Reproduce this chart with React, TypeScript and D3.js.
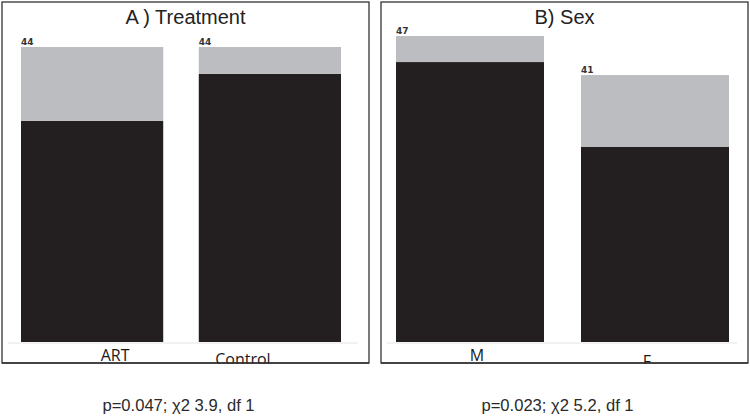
import React from "react";
import * as d3 from "d3";

// counts (black = yes, grey = no), totals printed on top
const treatmentGroups = ["ART", "Control"];
const treatmentYes = [33, 40];
const treatmentNo = [11, 4];

const sexGroups = ["M", "F"];
const sexYes = [43, 30];
const sexNo = [4, 11];

const titles = ["A ) Treatment", "B) Sex"];
const stats = ["p=0.047; \u03c72 3.9, df 1", "p=0.023; \u03c72 5.2, df 1"];

const BLACK = "#231f20";
const GREY = "#bcbdc0";

const W = 750;
const H = 417;

interface PanelProps {
  x0: number;
  x1: number;
  title: string;
  stat: string;
  groups: string[];
  yes: number[];
  no: number[];
  barLeft: number;
  barRight: number;
  topY: number;
  labelDx: number[];
  labelDy: number[];
}

const Panel: React.FC<PanelProps> = ({
  x0,
  x1,
  title,
  stat,
  groups,
  yes,
  no,
  barLeft,
  barRight,
  topY,
  labelDx,
  labelDy,
}) => {
  const baseY = 342;
  const totals = groups.map((_, i) => yes[i] + no[i]);
  const x = d3
    .scaleBand()
    .domain(groups)
    .range([barLeft, barRight])
    .paddingInner(0.2)
    .paddingOuter(0);
  const y = d3
    .scaleLinear()
    .domain([0, d3.max(totals)!])
    .range([baseY, topY]);
  const rows = groups.map((g, i) => ({ g, yes: yes[i], no: no[i] }));
  const stacked = d3.stack<any>().keys(["yes", "no"])(rows);
  const cx = (x0 + x1) / 2;

  return (
    <g>
      <rect
        x={x0}
        y={2}
        width={x1 - x0}
        height={361}
        fill="#fff"
        stroke="#333"
        strokeWidth={1.3}
      />
      <text
        x={cx}
        y={24}
        textAnchor="middle"
        fontFamily="Liberation Sans, Arial, sans-serif"
        fontSize={20}
        fill="#222"
      >
        {title}
      </text>
      <line
        x1={x0 + 6}
        x2={x1 - 11}
        y1={baseY + 1}
        y2={baseY + 1}
        stroke="#e4e4e4"
        strokeWidth={1}
      />
      {stacked.map((layer) =>
        layer.map((d, i) => (
          <rect
            key={layer.key + i}
            x={x(groups[i])}
            y={y(d[1])}
            width={x.bandwidth()}
            height={y(d[0]) - y(d[1])}
            fill={layer.key === "yes" ? BLACK : GREY}
          />
        ))
      )}
      {groups.map((g, i) => (
        <text
          key={"n" + g}
          x={x(g)!}
          y={y(totals[i]) - 2}
          fontFamily="DejaVu Sans, sans-serif"
          fontWeight="bold"
          fontSize={9}
          fill="#333"
        >
          {totals[i]}
        </text>
      ))}
      {groups.map((g, i) => (
        <text
          key={"l" + g}
          x={x(g)! + x.bandwidth() / 2 + labelDx[i]}
          y={361 + labelDy[i]}
          textAnchor="middle"
          fontFamily="Open Sans, sans-serif"
          fontSize={16}
          fill="#1a1a1a"
        >
          {g}
        </text>
      ))}
      <text
        x={cx - 7}
        y={411}
        textAnchor="middle"
        fontFamily="Liberation Sans, Arial, sans-serif"
        fontSize={16.6}
        fill="#2a2a2a"
      >
        {stat}
      </text>
    </g>
  );
};

export default function App() {
  return (
    <svg
      width={W}
      height={H}
      style={{ position: "absolute", left: 0, top: 0, background: "#fff" }}
    >
      <rect width={W} height={H} fill="#fff" />
      <Panel
        x0={2}
        x1={369}
        title={titles[0]}
        stat={stats[0]}
        groups={treatmentGroups}
        yes={treatmentYes}
        no={treatmentNo}
        barLeft={21}
        barRight={341}
        topY={47}
        labelDx={[23, -27]}
        labelDy={[0, 4]}
      />
      <Panel
        x0={381}
        x1={748}
        title={titles[1]}
        stat={stats[1]}
        groups={sexGroups}
        yes={sexYes}
        no={sexNo}
        barLeft={396}
        barRight={729}
        topY={36}
        labelDx={[7, -8]}
        labelDy={[0, 6]}
      />
      {/* mask the label parts that run past the frame bottom */}
      <rect x={0} y={364} width={W} height={20} fill="#fff" />
      <line x1={2} x2={369} y1={363} y2={363} stroke="#333" strokeWidth={1.3} />
      <line x1={381} x2={748} y1={363} y2={363} stroke="#333" strokeWidth={1.3} />
    </svg>
  );
}
